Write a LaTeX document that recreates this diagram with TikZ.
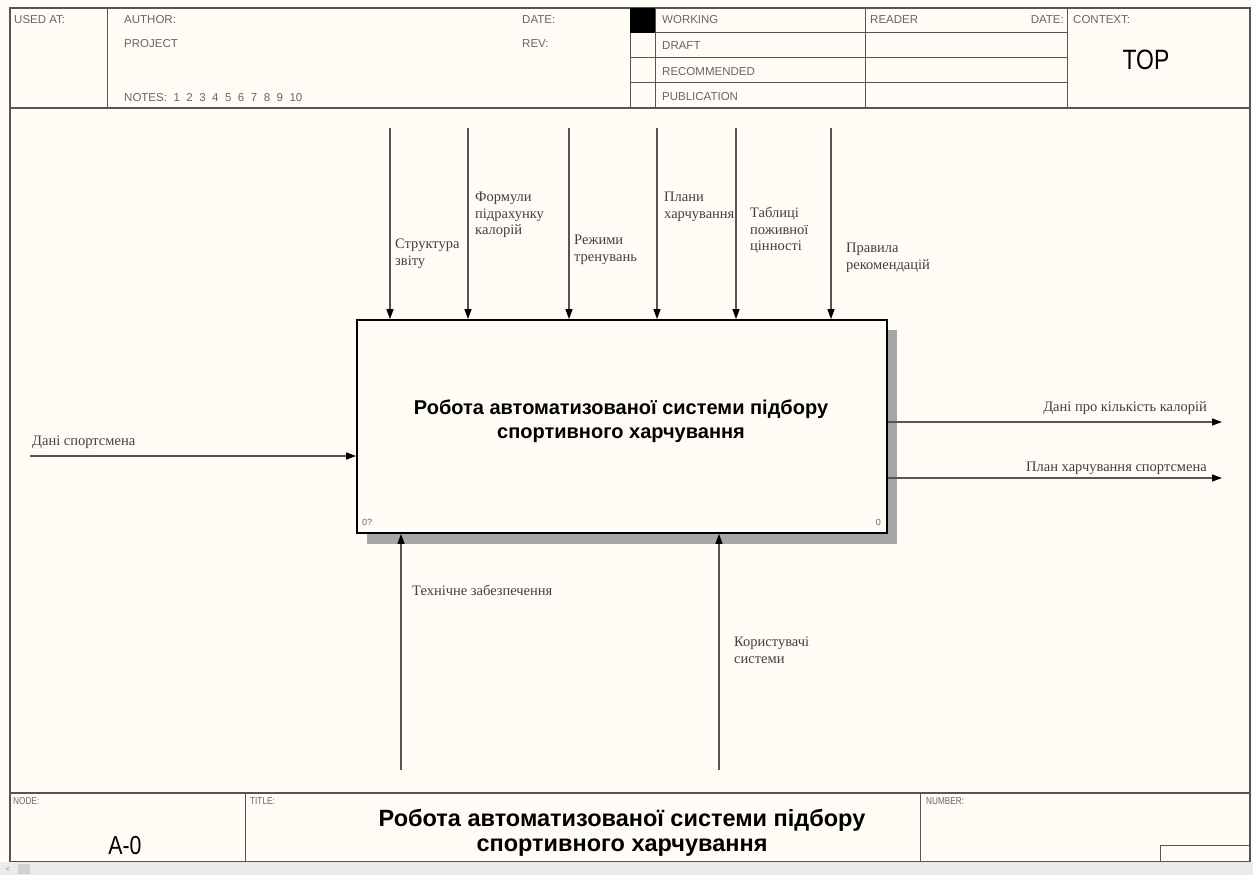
\documentclass[tikz,border=0pt]{standalone}
\usepackage{fontspec}
\setmainfont{Liberation Serif}
\newfontfamily\hdr[FakeStretch=0.82]{Liberation Sans}
\newfontfamily\arial{Liberation Sans}
\usetikzlibrary{arrows.meta}
\definecolor{bgc}{HTML}{FFFCF6}
\definecolor{linec}{HTML}{555555}
\definecolor{hdrc}{HTML}{666666}
\tikzset{
  frame/.style={draw=linec, line width=1.3pt},
  thin/.style={draw=linec, line width=1pt},
  arr/.style={draw=linec, line width=1.2pt, -{Triangle[length=10pt,width=7pt,color=black]}},
  hdrtxt/.style={anchor=base west, inner sep=0pt, text=hdrc, font=\arial\fontsize{11.5}{13}\selectfont},
  ftrtxt/.style={anchor=base west, inner sep=0pt, text=hdrc, font=\hdr\fontsize{10}{12}\selectfont},
  lbl/.style={inner sep=0pt, align=left, text=black!75, font=\fontsize{14.5}{16.5}\selectfont},
  boxtxt/.style={align=center, inner sep=0pt, font=\arial\bfseries\fontsize{20}{24}\selectfont},
}
\newcommand{\nsp}{\hspace{6.5pt}}
\begin{document}
\begin{tikzpicture}[x=1pt,y=-1pt]
\useasboundingbox (0,0) rectangle (1253,875);
\fill[bgc] (0,0) rectangle (1253,875);
% outer frame
\draw[frame] (10,8) rectangle (1250,862);
% header
\draw[frame] (10,108) -- (1250,108);
\foreach \x in {107,630,655,865,1067} \draw[thin] (\x,8) -- (\x,108);
\foreach \y in {33,58,83} \draw[thin] (630,\y) -- (1067,\y);
\fill[black] (630,8) rectangle (655,33);
\node[hdrtxt] (usedat) at (14,24) {USED AT:};
\node[hdrtxt] (author) at (124,24) {AUTHOR:};
\node[hdrtxt] (project) at (124,48) {PROJECT};
\node[hdrtxt] (notes) at (124,102) {NOTES:\nsp 1\nsp 2\nsp 3\nsp 4\nsp 5\nsp 6\nsp 7\nsp 8\nsp 9\nsp 10};
\node[hdrtxt] (date1) at (522,24) {DATE:};
\node[hdrtxt] (rev) at (522,48) {REV:};
\node[hdrtxt] (working) at (662,24) {WORKING};
\node[hdrtxt] (draft) at (662,50) {DRAFT};
\node[hdrtxt] (recom) at (662,75) {RECOMMENDED};
\node[hdrtxt] (publ) at (662,100) {PUBLICATION};
\node[hdrtxt] (reader) at (870,24) {READER};
\node[hdrtxt, anchor=base east] (date2) at (1064,24) {DATE:};
\node[hdrtxt] (context) at (1073,24) {CONTEXT:};
\node[inner sep=0pt, font=\hdr\fontsize{28}{30}\selectfont] (top) at (1146,60) {TOP};
% main box
\fill[black!35] (367,330) rectangle (897,544);
\node[draw=black, line width=1.8pt, fill=bgc, minimum width=530pt, minimum height=213pt, inner sep=0pt] (box) at (622,426.5) {};
\node[boxtxt] (boxlabel) at (621,421) {Робота автоматизованої системи підбору\\спортивного харчування};
\node[inner sep=0pt, text=black!60, font=\arial\fontsize{9}{10}\selectfont, anchor=base west] (cost) at (362,525) {0?};
\node[inner sep=0pt, text=black!60, font=\arial\fontsize{9}{10}\selectfont, anchor=base east] (num) at (881,525) {0};
% controls
\foreach \x/\n in {390/c1,468/c2,569/c3,657/c4,736/c5,831/c6}{
  \coordinate (\n) at (\x,128);
  \draw[arr] (\n) -- (\n |- box.north);
}
\node[lbl, anchor=north west] (l1) at (395,239) {Структура\\звіту};
\node[lbl, anchor=north west] (l2) at (475,192) {Формули\\підрахунку\\калорій};
\node[lbl, anchor=north west] (l3) at (574,235) {Режими\\тренувань};
\node[lbl, anchor=north west] (l4) at (664,192) {Плани\\харчування};
\node[lbl, anchor=north west] (l5) at (750,207) {Таблиці\\поживної\\цінності};
\node[lbl, anchor=north west] (l6) at (846,243) {Правила\\рекомендацій};
% input
\coordinate (i1) at (30,456);
\draw[arr] (i1) -- (box.west |- i1);
\node[lbl, anchor=north west] (li1) at (32,436) {Дані спортсмена};
% outputs
\coordinate (o1) at (1222,422);
\coordinate (o2) at (1222,478);
\draw[arr] (box.east |- o1) -- (o1);
\draw[arr] (box.east |- o2) -- (o2);
\node[lbl, anchor=north east] (lo1) at (1207,401) {Дані про кількість калорій};
\node[lbl, anchor=north east] (lo2) at (1207,462) {План харчування спортсмена};
% mechanisms
\coordinate (m1) at (401,770);
\coordinate (m2) at (719,770);
\draw[arr] (m1) -- (m1 |- box.south);
\draw[arr] (m2) -- (m2 |- box.south);
\node[lbl, anchor=north west] (lm1) at (412,585) {Технічне забезпечення};
\node[lbl, anchor=north west] (lm2) at (734,637) {Користувачі\\системи};
% footer
\draw[frame] (10,793) -- (1250,793);
\draw[thin] (245,793) -- (245,862);
\draw[thin] (920,793) -- (920,862);
\draw[thin] (1160,862) -- (1160,845) -- (1250,845);
\node[ftrtxt] (nodelbl) at (13,804) {NODE:};
\node[ftrtxt] (titlelbl) at (250,804) {TITLE:};
\node[ftrtxt] (numberlbl) at (926,804) {NUMBER:};
\node[inner sep=0pt, font=\hdr\fontsize{26}{28}\selectfont] (a0) at (125,846) {A-0};
\node[align=center, inner sep=0pt, font=\arial\bfseries\fontsize{23.5}{25}\selectfont] (title) at (622,833) {Робота автоматизованої системи підбору\\спортивного харчування};
% scroll bar strip
\fill[black!8] (0,862) rectangle (1253,875);
\fill[black!18] (18,864) rectangle (30,874);
\node[inner sep=0pt, text=black!50, font=\arial\fontsize{7}{8}\selectfont] (sl) at (8,869) {<};
\end{tikzpicture}
\end{document}
